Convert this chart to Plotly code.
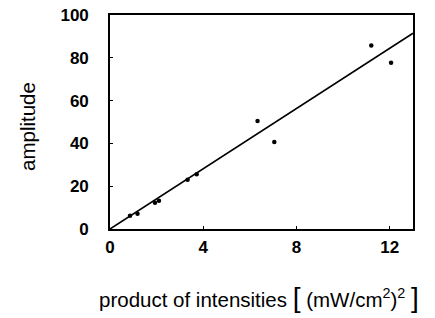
import plotly.graph_objects as go

x_data = [0.86, 1.18, 1.93, 2.10, 3.33, 3.72, 6.33, 7.05, 11.21, 12.06]
y_data = [6.2, 7.1, 12.3, 13.2, 23.0, 25.6, 50.5, 40.6, 85.7, 77.7]
fit_x = [0, 13]
fit_y = [0, 91.5]
x_ticks = [0, 4, 8, 12]
y_ticks = [0, 20, 40, 60, 80, 100]

W, H = 435, 318
L, R, T, B = 110, 22, 15, 89
pw, ph = W - L - R, H - T - B


def px_to_paper(px, py):
    return (px - L) / pw, (H - B - py) / ph


fig = go.Figure()
fig.add_trace(go.Scatter(x=fit_x, y=fit_y, mode="lines",
                         line=dict(color="black", width=1.6), showlegend=False))
fig.add_trace(go.Scatter(x=x_data, y=y_data, mode="markers",
                         marker=dict(color="black", size=4.5), showlegend=False))

font = "Liberation Sans, Arial, sans-serif"
ax_common = dict(ticks="inside", ticklen=3, tickwidth=1.2, tickcolor="black",
                 showgrid=False, zeroline=False, showline=True,
                 linecolor="black", linewidth=1.6, mirror=True, automargin=False,
                 tickfont=dict(size=17, family=font, weight="bold", color="black"))

ax1, ay1 = px_to_paper(27, 127)
ax2, ay2 = px_to_paper(259, 297)

fig.update_layout(
    template="none",
    width=W, height=H,
    margin=dict(l=L, r=R, t=T, b=B, autoexpand=False),
    plot_bgcolor="white", paper_bgcolor="white",
    font=dict(family=font, color="black", size=20),
    xaxis=dict(range=[0, 13], tickvals=x_ticks, ticklabelstandoff=2, **ax_common),
    yaxis=dict(range=[0, 100], tickvals=y_ticks, ticklabelstandoff=16, **ax_common),
    annotations=[
        dict(text="amplitude", x=ax1, y=ay1, xref="paper", yref="paper", showarrow=False,
             textangle=-90, font=dict(size=20.5, color="black", family=font),
             xanchor="center", yanchor="middle"),
        dict(text="product of intensities <span style='font-size:28px'>[</span> (mW/cm<sup>2</sup>)<sup>2</sup> <span style='font-size:28px'>]</span>",
             x=ax2, y=ay2, xref="paper", yref="paper", showarrow=False,
             font=dict(size=20.5, color="black", family=font),
             xanchor="center", yanchor="middle"),
    ],
)
fig.write_html("out.html", config={"displayModeBar": False},
               post_script="document.body.style.margin='0';")
